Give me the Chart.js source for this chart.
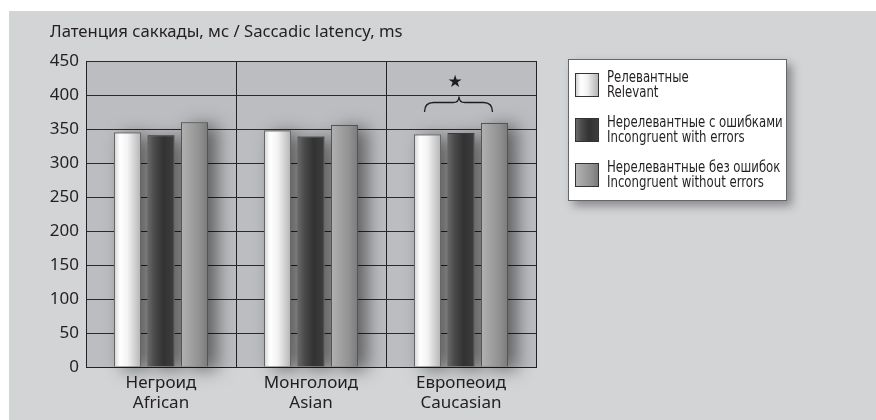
<!DOCTYPE html>
<html>
<head>
<meta charset="utf-8">
<script src="https://cdn.jsdelivr.net/npm/chart.js@4.4.0/dist/chart.umd.min.js"></script>
<style>
  body { margin: 0; background: #fff; }
  #wrap { position: relative; width: 876px; height: 420px; overflow: hidden; background: #fff; }
  #panel { position: absolute; left: 9px; top: 11px; right: 0; bottom: 0; background: #d3d4d6; }
  #chart { position: absolute; left: 0; top: 0; }
  #legend {
    position: absolute; left: 568px; top: 59px; width: 217px; height: 140px;
    background: #fff; border: 1px solid #666;
    box-shadow: 5px 5px 9px rgba(0, 0, 0, .35);
    font-family: "Liberation Sans Narrow", "DejaVu Sans Condensed", sans-serif;
    color: #231f20;
  }
  .item { position: absolute; left: 6px; height: 24px; }
  .sw { position: absolute; left: 0; top: 0; width: 22px; height: 22px; border: 1px solid #333; }
  .txt {
    position: absolute; left: 32px; top: -3px; font-size: 16px; line-height: 14.5px;
    white-space: nowrap; transform: scaleX(0.815); transform-origin: 0 0;
  }
</style>
</head>
<body>
<div id="wrap">
  <div id="panel"></div>
  <canvas id="chart" width="876" height="420"></canvas>
  <div id="legend"></div>
</div>
<script>
// data
const titleText = 'Латенция саккады, мс / Saccadic latency, ms';
const categories = [['Негроид', 'African'], ['Монголоид', 'Asian'], ['Европеоид', 'Caucasian']];
const seriesNames = [
  ['Релевантные', 'Relevant'],
  ['Нерелевантные с ошибками', 'Incongruent with errors'],
  ['Нерелевантные без ошибок', 'Incongruent without errors']
];
const relevant = [345, 348, 342];
const incongruentErrors = [341, 339, 344];
const incongruentNoErrors = [360, 356, 359];
const yTicks = [0, 50, 100, 150, 200, 250, 300, 350, 400, 450];

// significance mark over the Caucasian group (values in ms)
const markedGroup = 2;
const starValue = 418;
const braceTip = 398;
const braceLine = 389;
const braceEnd = 375;

const seriesValues = [relevant, incongruentErrors, incongruentNoErrors];

// cylinder-like shading for each series
const barStops = [
  [[0, '#d2d2d2'], [0.22, '#ffffff'], [0.5, '#f3f3f3'], [1, '#b4b4b4']],
  [[0, '#6a6a6a'], [0.25, '#4b4b4b'], [0.6, '#323232'], [1, '#3e3e3e']],
  [[0, '#b2b2b2'], [0.3, '#a3a3a3'], [0.7, '#909090'], [1, '#7a7a7a']]
];
const barBorders = ['#666', '#3a3a3a', '#555'];
const CAT_PCT = 0.67;
const BAR_PCT = 0.806;

function barGradient(context, i) {
  const chart = context.chart;
  const xs = chart.scales.x;
  const flat = barStops[i][2][1];
  if (!chart.chartArea || !xs || !isFinite(xs.width) || xs.width <= 0) return flat;
  const n = seriesValues.length;
  const cx = xs.getPixelForValue(context.dataIndex);
  if (!isFinite(cx)) return flat;
  const step = xs.width / categories.length * CAT_PCT / n;
  const w = step * BAR_PCT;
  const center = cx + (i - (n - 1) / 2) * step;
  const g = chart.ctx.createLinearGradient(center - w / 2, 0, center + w / 2, 0);
  barStops[i].forEach(([o, c]) => g.addColorStop(o, c));
  return g;
}

const plotBg = {
  id: 'plotBg',
  beforeDraw(chart) {
    const { ctx, chartArea: a } = chart;
    ctx.save();
    ctx.fillStyle = '#bcbdc0';
    ctx.fillRect(a.left, a.top, a.right - a.left, a.bottom - a.top);
    ctx.restore();
  }
};

const barShadow = {
  id: 'barShadow',
  beforeDatasetsDraw(chart) {
    const ctx = chart.ctx;
    ctx.save();
    ctx.shadowColor = 'rgba(0,0,0,0.5)';
    ctx.shadowBlur = 18;
    ctx.shadowOffsetX = 9;
    ctx.shadowOffsetY = 3;
    ctx.fillStyle = '#888';
    chart.getSortedVisibleDatasetMetas().forEach(meta => {
      meta.data.forEach(bar => {
        const { x, y, base, width } = bar.getProps(['x', 'y', 'base', 'width'], true);
        ctx.fillRect(x - width / 2, y, width, base - y);
      });
    });
    ctx.restore();
  }
};

const significance = {
  id: 'significance',
  afterDatasetsDraw(chart) {
    const ctx = chart.ctx;
    const ys = chart.scales.y;
    const xL = chart.getDatasetMeta(0).data[markedGroup].x - 3;
    const xR = chart.getDatasetMeta(2).data[markedGroup].x - 2;
    const xm = chart.scales.x.getPixelForValue(markedGroup) - 2;
    const y0 = ys.getPixelForValue(braceTip);
    const y1 = ys.getPixelForValue(braceLine);
    const y2 = ys.getPixelForValue(braceEnd);
    ctx.save();
    ctx.strokeStyle = '#1e1e1e';
    ctx.lineWidth = 1.3;
    ctx.beginPath();
    ctx.moveTo(xL, y2);
    ctx.quadraticCurveTo(xL, y1, xL + 9, y1);
    ctx.lineTo(xm - 6, y1);
    ctx.quadraticCurveTo(xm, y1, xm, y0);
    ctx.quadraticCurveTo(xm, y1, xm + 6, y1);
    ctx.lineTo(xR - 9, y1);
    ctx.quadraticCurveTo(xR, y1, xR, y2);
    ctx.stroke();
    ctx.fillStyle = '#1e1e1e';
    ctx.font = '17px "DejaVu Sans"';
    ctx.textAlign = 'center';
    ctx.textBaseline = 'middle';
    ctx.fillText('★', xm - 4, ys.getPixelForValue(starValue));
    ctx.restore();
  }
};

const tickFont = { family: '"Noto Sans", sans-serif', size: 17, lineHeight: 1.2 };

new Chart(document.getElementById('chart'), {
  type: 'bar',
  data: {
    labels: categories,
    datasets: seriesValues.map((vals, i) => ({
      label: seriesNames[i].join(' / '),
      data: vals,
      backgroundColor: ctx => barGradient(ctx, i),
      borderColor: barBorders[i],
      borderWidth: 1,
      categoryPercentage: CAT_PCT,
      barPercentage: BAR_PCT
    }))
  },
  options: {
    responsive: false,
    animation: false,
    devicePixelRatio: 1,
    layout: { padding: { left: 50, right: 340, top: 0, bottom: 0 } },
    plugins: {
      legend: { display: false },
      tooltip: { enabled: false },
      title: {
        display: true,
        text: titleText,
        align: 'start',
        color: '#231f20',
        font: { family: '"Noto Sans", sans-serif', size: 16.7, weight: 'normal', lineHeight: 1.2 },
        padding: { top: 22, bottom: 19 }
      }
    },
    scales: {
      x: {
        grid: { color: '#222', lineWidth: 1, drawTicks: false, offset: true },
        border: { color: '#222', width: 1 },
        ticks: { color: '#231f20', font: tickFont, padding: 6, maxRotation: 0 },
        afterFit(s) { s.height = 53; }
      },
      y: {
        min: 0,
        max: 450,
        afterBuildTicks(s) { s.ticks = yTicks.map(v => ({ value: v })); },
        grid: { color: '#2a2a2a', lineWidth: 1, drawTicks: false },
        border: { color: '#222', width: 1 },
        ticks: { color: '#231f20', font: tickFont, padding: 7 },
        afterFit(s) { s.width = 36; }
      }
    }
  },
  plugins: [plotBg, barShadow, significance]
});

// legend box
const legendEl = document.getElementById('legend');
legendEl.innerHTML = seriesNames.map((names, i) => {
  const stops = barStops[i].map(([o, c]) => `${c} ${Math.round(o * 100)}%`).join(', ');
  return `<div class="item" style="top:${13 + i * 45}px">
    <div class="sw" style="background:linear-gradient(to right, ${stops})"></div>
    <div class="txt">${names[0]}<br>${names[1]}</div>
  </div>`;
}).join('');
</script>
</body>
</html>
